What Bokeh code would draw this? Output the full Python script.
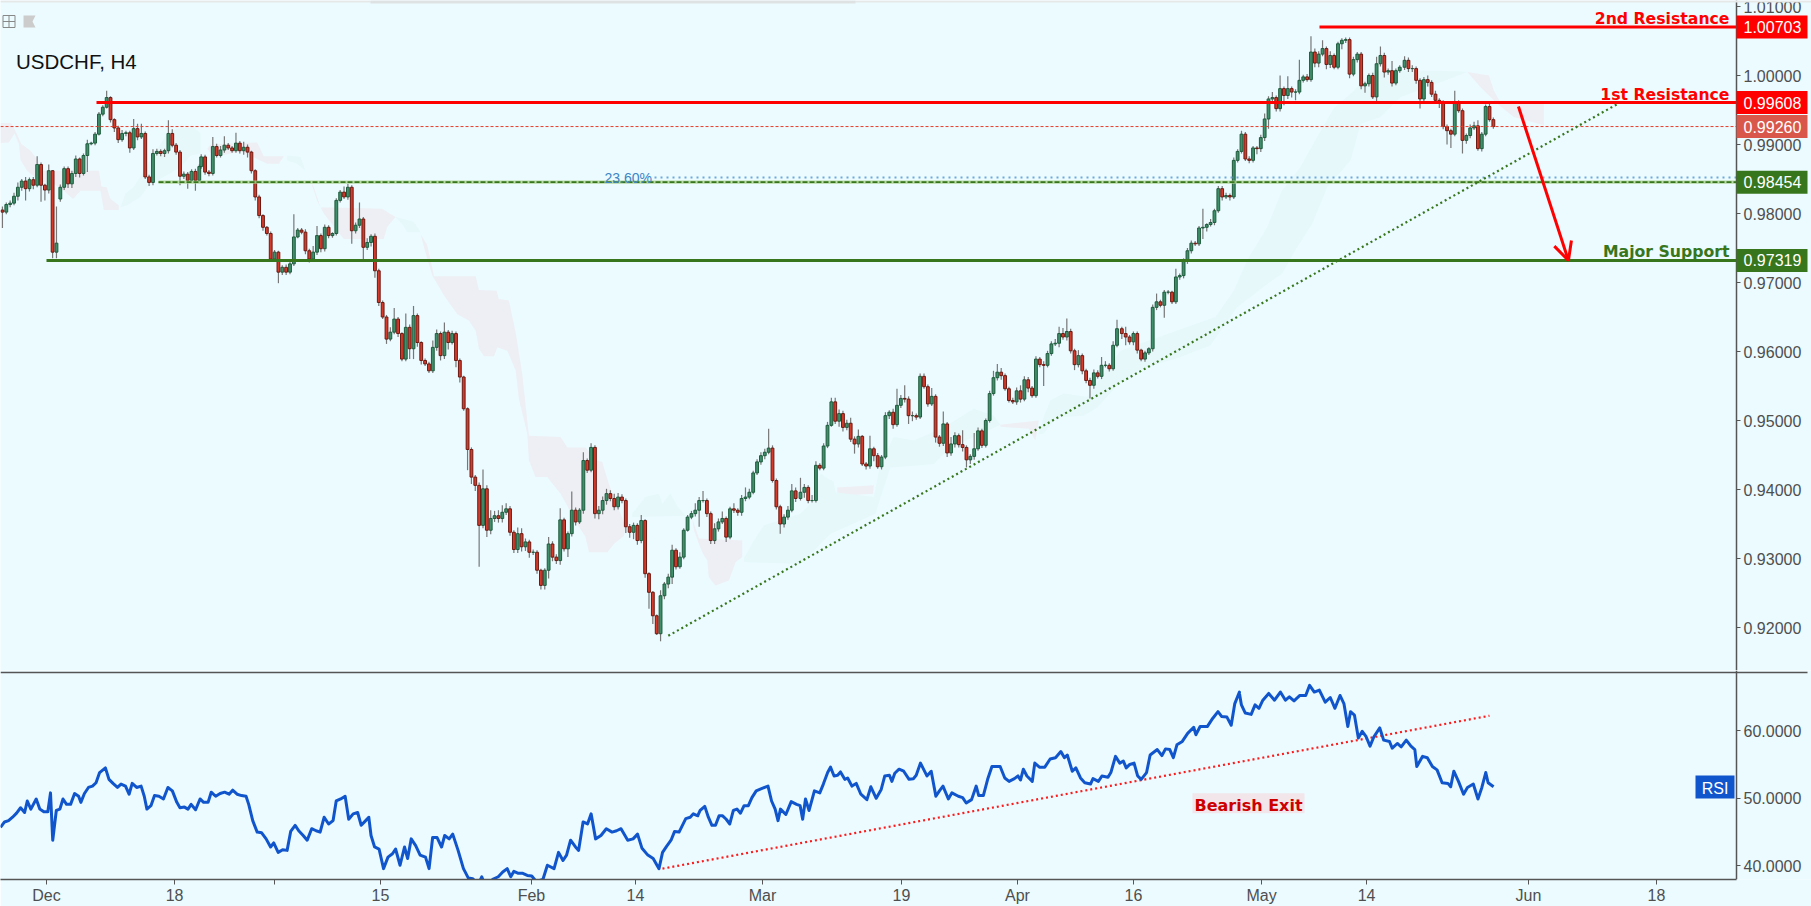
from bokeh.plotting import figure
from bokeh.layouts import column
from bokeh.core.properties import value
from bokeh.models import (Range1d, LinearAxis, FixedTicker, PrintfTickFormatter, Label,
                          Arrow, OpenHead, BoxAnnotation)
from bokeh.embed import file_html
from bokeh.resources import INLINE
import numpy as np

# ---------------- data: USDCHF H4 closes, in 1/10000 of a franc ----------------
closes_dec = [9802,9813,9815,9825,9838,9847,9836,9849,9841,9871,9841,9834,9862,9744,9757,9838,9865,9843,9858,9879,9858,9884,9901,9902,9915,9944,9954,9968,9936,9924,9907,9916,9917,9895,9923,9911,9916,9853,9845,9887,9890,9887,9891,9916,9899,9889,9854,9857,9848,9861,9848,9868]
closes_jan = [9882,9860,9858,9897,9884,9892,9899,9895,9891,9902,9891,9896,9889,9862,9824,9797,9780,9771,9734,9744,9715,9722,9715,9727,9766,9776,9773,9746,9734,9744,9768,9749,9780,9768,9771,9819,9831,9824,9838,9775,9783,9792,9751,9758,9767,9717,9671,9650]
closes_jan2 = [9618,9628,9647,9626,9589,9635,9604,9652,9613,9587,9582,9572,9606,9626,9594,9628,9613,9626,9587]
closes_feb = [9563,9517,9458,9418,9406,9348,9401,9341,9358,9362,9358,9367,9372,9338,9313,9336,9317,9324,9309,9309,9283,9261,9283,9321,9302,9297,9356,9314,9336,9370,9353,9370,9442,9428,9461,9365,9370,9384,9394,9387,9375,9389,9384,9346,9338,9348,9326,9355,9278,9251,9217,9191,9246,9263,9273,9312,9288,9302,9341,9360,9365,9370,9384,9384,9365,9326,9343,9353,9358,9331,9372,9370,9367,9387,9389,9396,9424,9440,9449,9454,9460,9413,9375,9350,9360,9370,9398,9387]
closes_mar = [9396,9403,9384,9384,9435,9431,9463,9493,9527,9499,9510,9490,9496,9473,9466,9477,9437,9434,9459,9449,9433,9447,9507,9512,9494,9522,9532,9531,9507,9507,9505,9564,9549,9524,9535,9476,9467,9495,9453,9466,9478,9465,9461,9443,9448,9459,9485,9464,9500,9539,9562,9570,9565,9546,9529,9527,9543,9531,9559,9547,9536,9589,9581,9580,9597,9611,9612,9626,9621,9629,9601,9581,9594,9572,9558,9551,9569,9564,9580,9580,9575,9609,9633]
closes_apr = [9626,9621,9614,9626,9602,9589,9598,9604,9664,9672,9667,9686,9686,9672,9708,9710,9732,9746,9757,9756,9779,9780,9784,9787,9804,9836,9824,9826,9824,9877,9890,9915,9879,9877,9895,9894,9910,9937,9966,9968,9952,9981,9971,9981,9976,9976,9993,9998,9994,10034,10018,10031,10039,10016,10029,10012,10046,10051,10052,10002,10023,10031,9985,9988,10000,9969,10017,10029,10005,10007,9989,10007,10012]
closes_may = [10022,10010,10010,9993,9966,9994,9990,9973,9964,9961,9926,9920,9915,9961,9949,9906,9913,9924,9927,9894,9915,9955,9936,9926]
section_start_bars = [1, 104, 200, 238, 414.5, 581, 727.5]

wick_up_a = [5,3,4,5,7,3,6,3,4,12,3,2,9,1,53,4,3,3,4,5,2,3,6,2,3,3,3,10,2,2,3,5,3,3,14,7,14,3,3,6,4,3,3,19,6,3,3,4,3,3,4,3]
wick_dn_a = [23,3,4,3,6,5,17,4,6,3,24,15,5,9,9,4,4,6,6,5,6,3,24,2,3,2,3,2,4,6,5,3,4,7,3,5,3,3,5,4,3,4,5,4,3,4,13,4,12,3,15,3]
wick_up_b = [4,3,3,14,4,6,13,3,3,15,3,8,4,2,2,3,2,2,3,3,2,3,4,3,33,3,3,4,3,9,14,3,4,3,2,3,3,8,5,3,4,24,3,6,3,4,3,3]
wick_dn_b = [3,4,4,3,3,3,4,3,3,3,4,6,8,4,5,4,5,3,4,3,16,4,4,3,3,2,3,5,5,4,4,5,4,4,3,3,3,3,4,19,4,4,17,4,6,10,5,3]
wick_up_c = [3,7,16,3,2,20,4,14,3,2,3,3,10,6,3,14,3,4,3]
wick_dn_c = [7,3,3,5,3,3,15,15,6,6,3,3,3,5,7,5,10,3,10]
wick_up_d = [3,2,2,3,3,4,28,5,12,7,8,10,8,4,3,9,8,5,3,4,3,2,3,10,4,4,17,3,3,27,4,3,12,3,6,3,6,6,7,5,7,6,4,3,4,4,3,8,2,2,2,2,8,3,5,8,3,7,3,3,4,10,5,14,3,3,8,5,10,3,3,8,3,5,14,5,3,4,5,5,28,4,3,3,4,6,10,5]
wick_dn_d = [8,3,30,10,8,60,4,10,6,5,6,6,4,5,5,5,7,6,8,4,5,6,6,12,6,5,6,4,12,4,5,3,5,4,3,7,8,6,6,4,5,4,4,9,8,10,6,4,6,24,12,2,11,5,6,10,4,3,3,2,3,4,24,3,5,5,5,4,3,7,3,4,5,5,4,3,3,3,4,5,3,3,4,14,5,4,3,5]
wick_up_e = [21,5,3,8,6,3,4,5,6,6,6,4,5,8,4,10,2,3,19,3,4,3,5,3,5,24,5,19,4,6,3,4,4,3,12,3,3,18,3,10,5,3,21,3,3,23,5,3,3,4,10,12,6,3,3,4,5,8,5,4,3,4,3,5,4,4,6,10,8,19,4,3,8,3,3,4,5,4,12,6,3,6,13]
wick_dn_e = [3,8,4,3,3,3,3,3,2,4,8,6,4,4,14,5,3,5,4,8,3,4,3,5,6,3,4,5,12,8,4,3,3,4,3,8,5,4,6,4,5,4,6,11,6,5,3,4,3,3,3,4,6,3,3,3,4,5,3,6,3,3,4,30,3,3,3,6,4,5,4,8,4,5,4,19,5,3,4,3,4,3,3]
wick_up_f = [3,10,3,3,3,2,3,2,4,12,3,3,3,2,12,3,3,4,4,3,3,27,2,5,3,4,4,4,3,4,3,5,3,4,3,3,4,8,4,8,3,19,3,18,3,4,30,3,4,23,5,4,12,3,6,3,3,3,3,3,4,3,3,3,3,4,10,13,4,3,14,3,3]
wick_dn_f = [8,12,4,5,5,3,4,3,4,4,3,18,3,3,3,4,4,5,4,3,3,16,6,3,4,3,5,3,5,3,3,3,3,4,3,8,5,5,14,5,4,4,14,5,8,12,3,3,3,3,6,6,3,7,5,3,3,8,4,6,3,4,5,10,4,3,6,4,8,4,5,3,3]
wick_up_g = [6,4,5,3,3,4,6,3,5,3,3,3,3,17,3,3,3,5,6,8,3,3,6,3]
wick_dn_g = [4,5,5,5,14,6,6,4,3,8,4,20,20,3,3,19,5,4,3,3,4,3,3,3]
first_open = 9805
session_gaps = {15: 9821}   # candle index -> open, where the market gapped

rsi_a = [45.7,46.5,46.7,47.2,47.8,48.6,47.9,49.6,48.4,49.9,48.4,48.0,48.0,50.8,43.8,48.2,48.4,49.9,49.1,49.1,50.7,50.3,49.4,50.7,51.6,51.8,52.3,53.8,54.5,52.8,52.2,51.6,52.1,51.8,50.6,52.2,51.6,51.8,50.3,48.4,48.9,50.4,50.3,49.9,51.6,51.1,49.4,48.6,48.7,48.4,49.1,48.3,49.9,49.4,49.4,50.9,50.3,50.7,50.9,50.6,51.2,50.6,50.4,50.3,49.1,46.7,45.0,44.9,44.0,42.8,43.4,42.0,42.4,42.3,45.1,46.0,45.2,44.5,43.8,45.5,45.2,45.0,47.2,46.2,46.7,49.6,49.9,50.3,46.9,47.7,47.9,46.0,46.7,47.2,44.5,42.8,42.5,39.6,41.3,41.8,42.5,40.1,42.8,41.1,44.0,43.0,41.6,41.3,39.6,44.2,44.2,42.8,44.5,44.0,44.7,42.3,39.6,38.2,38.1,37.2,38.4,37.2,38.1,38.4,39.1,39.6,38.4,39.2,38.9,38.9,38.6,38.5,37.7,38.0,40.1,39.6,42.0,40.8,41.6,43.8,42.8,42.3,46.5,46.2,47.7,44.0,44.5,45.5,45.0,45.2,45.5,43.8,44.0,44.7,42.6,41.6,41.1,39.6,42.0,42.9,43.8,45.1,45.0,47.0,47.2,47.7,47.4]
rsi_a_time = [0,9,18,27,36,45,54,60,68,80,88,97,106,112,117,125,133,140,148,157,166,175,180,188,197,206,214,222,235,243,252,262,270,280,288,295,305,315,322,328,337,345,355,365,375,385,395,402,412,420,427,437,447,455,465,472,482,492,502,512,520,530,540,550,556,565,575,585,595,605,612,622,632,642,650,660,668,678,687,697,707,716,725,735,745,752,762,772,780,790,800,808,818,825,830,838,848,858,868,878,885,895,905,912,920,930,940,952,960,968,978,988,995,1005,1013,1025,1037,1048,1058,1070,1078,1085,1105,1115,1125,1135,1143,1150,1160,1170,1180,1190,1200,1215,1225,1240,1250,1260,1268,1277,1288,1295,1305,1315,1323,1333,1345,1357,1370,1380,1390,1405,1417,1427,1437,1450,1462,1475,1483,1492,1502,1510,1520,1535,1545,1552,1562]
rsi_b = [47.4,48.2,48.8,47.2,46.0,46.0,47.4,47.4,46.9,46.2,48.2,48.4,47.8,48.9,48.9,50.1,51.1,51.4,51.8,49.6,48.4,46.7,48.4,47.6,49.5,49.1,48.9,46.9,49.9,48.2,51.1,50.8,52.1,53.8,54.6,53.3,53.4,53.9,52.8,53.0,51.8,52.2,50.6,49.8,51.7,50.0,51.3,53.3,53.4,52.5,53.7,54.3,54.0,52.8,52.9,53.4,55.2,53.3,54.0,50.3,51.1,51.8,49.9,50.8,50.3,50.1,49.3,49.8,51.8,50.4,50.4,52.8,54.7,54.7,54.7,53.0,52.5,52.9,53.3,52.7,54.3,53.3,52.5,55.2,54.6,54.6,55.8,56.0,56.9,56.0,56.4,54.0,54.5,53.0,52.3,52.1,52.9,52.5,53.3,53.1,53.8,56.2,55.2,55.5,54.5,55.0,55.2,53.3,52.8,53.8,56.4,56.8,57.2,56.3,57.3,57.2,56.0,57.9,58.4,59.6,60.5,59.4,60.6,60.6,61.8,62.8,62.1,62.0,60.8,64.0,65.7]
rsi_b_time = [48,55,68,78,88,98,108,118,128,138,148,158,168,178,190,200,212,225,245,255,265,273,280,295,310,325,335,342,350,360,375,390,400,412,420,430,440,448,460,468,480,492,505,522,533,548,562,572,585,592,600,612,625,640,652,660,672,690,702,715,725,735,750,760,778,790,800,815,828,835,848,860,872,885,895,908,920,935,945,952,960,970,985,992,1005,1020,1035,1050,1065,1075,1083,1097,1107,1120,1132,1148,1155,1170,1180,1197,1205,1218,1230,1240,1248,1258,1270,1280,1290,1305,1315,1325,1335,1348,1358,1370,1380,1390,1405,1420,1437,1443,1455,1475,1490,1505,1515,1530,1542,1552,1565]
rsi_c = [65.5,63.8,62.6,62.4,63.8,63.3,64.5,65.5,64.5,65.7,64.5,65.0,64.4,65.2,65.2,66.7,65.7,66.0,64.2,64.9,63.3,65.2,64.0,60.6,62.8,62.3,58.9,59.9,59.1,57.7,59.1,60.4,58.6,58.4,57.4,58.1,57.6,58.6,57.7,57.2,54.7,56.2,56.0,54.7,54.2,52.3,52.2,51.7,54.0,52.5,50.6,51.6,52.1,49.9,51.6,53.8,52.3,51.7]
rsi_c_time = [100,105,115,130,140,150,160,175,190,205,218,228,240,255,270,280,292,305,320,333,345,358,368,378,385,395,405,415,425,435,445,460,470,485,492,505,515,528,540,550,555,570,582,595,607,620,635,642,650,662,675,685,700,712,722,732,738,752]

cloud_pink = [
 ([0,5.5,8,10.7,15.5,19,21.6,51,52.3,55,57,61.3,61.3,53.5,51.8,41.5,37.6,32.8,27.6,20.7,13.8,10.4,9.5,7.3,4.3,0],
  [.9931,.9931,.9918,.9901,.9891,.9879,.9862,.9862,.9839,.9838,.9821,.9812,.9805,.9805,.9833,.9833,.9821,.9833,.9843,.9846,.9862,.9877,.9901,.9916,.9903,.9902]),
 ([107.1,108.8,133,136.4,146.8,144.2,138.2,133,124.3,110.5],
  [.9894,.9900,.9903,.9883,.9883,.9872,.9872,.9879,.9890,.9882]),
 ([158,162.3,165.8,197.7,204.6,200.3,198.6,177.9,174.4,167.5,164,160.6],
  [.9862,.9838,.9809,.9807,.9795,.9780,.9763,.9763,.9775,.9800,.9819,.9848]),
 ([217.7,221.1,223.7,224.6,246.2,247.9,257,258.2,263.4,266.9,270.3,273.8,290.2,293.7,303.1,309.2,311.8,315.2,323.9,323,317.8,314.4,304.9,303.1,298.8,290.2,283.3,277.2,273.8,272.9,268.6,266.9,262.6,257.4,255.7,250.5,247.9,246.2,242.7,236.7,229.8,223.7,219.4],
  [.9770,.9754,.9722,.9709,.9709,.9689,.9688,.9676,.9674,.9628,.9568,.9478,.9476,.9461,.9461,.9442,.9440,.9408,.9346,.9333,.9321,.9309,.9309,.9331,.9350,.9394,.9418,.9418,.9442,.9481,.9531,.9573,.9601,.9606,.9593,.9593,.9604,.9630,.9645,.9654,.9681,.9710,.9751]),
 ([358.4,361.9,384.3,384.3,380.9,377.4,370.5,367,366.2,363.6,361.9,359.3],
  [.9358,.9329,.9326,.9302,.9295,.9268,.9261,.9273,.9297,.9309,.9321,.9341]),
 ([433.5,452.5,452.1,433.5],[.9403,.9406,.9394,.9391]),
 ([518.1,538,536.2,532.8,518.1],[.9494,.9500,.9471,.9488,.9491]),
 ([760,771.2,773.8,777.2,799.7,799.7,784.1,775.5,766.9],[1.0005,1.0000,.9978,.9961,.9959,.9928,.9940,.9959,.9983]),
]
cloud_teal = [
 ([62.2,64.8,69,71.7,77.7,86.4,91.5,100.2,103.6,103.6,98.4,93.3,81.2,76,72.5,65.6],
  [.9809,.9829,.9838,.9850,.9877,.9916,.9923,.9925,.9916,.9887,.9884,.9867,.9848,.9838,.9824,.9812]),
 ([148.5,155.4,158,153.7,148.5],[.9884,.9882,.9862,.9872,.9877]),
 ([204.6,214.1,217.6,210.7,208.1],[.9795,.9788,.9773,.9773,.9785]),
 ([327.3,334.2,341.1,342.9,347.2,350.6,355,327.3],[.9365,.9389,.9394,.9379,.9394,.9375,.9362,.9360]),
 ([385.2,390.4,395.5,414.5,421.4,424.8,431.7,432.6,452.5,455.9,462.8,473.2,488.7,504.3,514.6,518.1,504.3,492.2,483.5,461.1,457.6,453.3,430,414.5,385.2],
  [.9300,.9326,.9348,.9365,.9384,.9423,.9411,.9396,.9389,.9437,.9476,.9471,.9490,.9517,.9507,.9494,.9476,.9461,.9437,.9432,.9403,.9365,.9336,.9292,.9295]),
 ([538,540.5,544,550.9,563,580.3,629.5,639,645.9,656.3,664,673.5,682.2,690.8,701.2,710.7,746.1,760,725.4,715,704.7,699.5,687.4,679.6,671.8,664,656.3,640.7,626.9,611.3,594.1,589.8,580.3,568.2,561.2,547.4,540.5],
  [.9481,.9505,.9529,.9539,.9534,.9601,.9650,.9688,.9732,.9780,.9833,.9867,.9911,.9952,.9978,1.0007,1.0007,1.0005,.9969,.9940,.9930,.9877,.9838,.9785,.9751,.9713,.9698,.9664,.9609,.9592,.9577,.9573,.9556,.9519,.9507,.9505,.9481]),
]

price_ticks = [0.92,0.93,0.94,0.95,0.96,0.97,0.98,0.99,1.00,1.01]
rsi_ticks = [40,50,60]
time_labels = ["Dec","18","2018","15","Feb","14","Mar","19","Apr","16","May","14","Jun","18"]
time_bars = [23.8,90.2,142,196.9,275.1,329,394.8,466.8,526.9,587,653.4,707.8,791.7,858]
tag_values = [1.00703,0.99608,0.99260,0.98454,0.97319]
tag_names = ["1.00703","0.99608","0.99260","0.98454","0.97319"]
tag_colors = ["#ff0000","#ff0000","#d9574a","#38761d","#38761d"]
level_2nd, level_1st, level_sup, level_fib, level_last = 1.00703,0.99608,0.97319,0.98454,0.99260
level_236 = 0.98520
rsi_top_line = 68.6

# ---------------- layout ----------------
BG = "#ebfbff"
BAR_PX = 1.93
AXIS_X = 1736 / BAR_PX
AX = "#555555"
FONT = "Liberation Sans"
BOLD = "DejaVu Sans"
def bars(px): return px / BAR_PX
def py(y): return 1 + (75 - y) / 6900
def ry(y): return 60 - (y - 730.7) / 6.83

x_range = Range1d(0, 1811 / BAR_PX)
common = dict(output_backend="svg", toolbar_location=None, x_range=x_range, width=1811,
              background_fill_color=BG, border_fill_color=BG, outline_line_color=None,
              min_border=0, x_axis_location=None, y_axis_location=None)
p1 = figure(height=670, y_range=Range1d(py(670), py(0)), **common)
common2 = dict(common); common2["x_axis_location"] = "below"
p2 = figure(height=236, y_range=Range1d(ry(881), ry(670)), **common2)
p1.grid.visible = False
p2.grid.visible = False
p2.min_border_bottom = 25

# clouds
for xs, ys in cloud_pink:
    p1.patch(xs, ys, fill_color="#eeeff4", line_color=None)
for xs, ys in cloud_teal:
    p1.patch(xs, ys, fill_color="#e6f8fa", line_color=None)

# candles
sections = [(closes_dec, wick_up_a, wick_dn_a), (closes_jan, wick_up_b, wick_dn_b), (closes_jan2, wick_up_c, wick_dn_c),
            (closes_feb, wick_up_d, wick_dn_d), (closes_mar, wick_up_e, wick_dn_e), (closes_apr, wick_up_f, wick_dn_f),
            (closes_may, wick_up_g, wick_dn_g)]
xs_all, cl_all, up_all, dn_all = [], [], [], []
for start, (cl, up, dn) in zip(section_start_bars, sections):
    m = len(cl)
    xs_all += [start + 2 * i for i in range(m)]
    cl_all += cl
    up_all += (up + [3] * m)[:m]
    dn_all += (dn + [3] * m)[:m]
x = np.array(xs_all, float)
closes = np.array(cl_all, float)
opens = np.r_[first_open, closes[:-1]]
for i, v in session_gaps.items():
    opens[i] = v
hi = np.maximum(opens, closes) + np.array(up_all, float)
lo = np.minimum(opens, closes) - np.array(dn_all, float)
p1.segment(x, hi / 1e4, x, lo / 1e4, line_color="#777777", line_width=1.2)
rise = closes >= opens
p1.vbar(x[rise], 1.45, closes[rise] / 1e4, opens[rise] / 1e4, fill_color="#3f8f6b", line_color="#1f5a3c", line_width=1)
fall = ~rise
p1.vbar(x[fall], 1.45, opens[fall] / 1e4, closes[fall] / 1e4, fill_color="#d63a2a", line_color="#6a1a12", line_width=1)

# levels
p1.line([0, AXIS_X], [level_last] * 2, line_color="#e83c28", line_width=1, line_dash=[3, 2])
p1.line([bars(158), AXIS_X], [level_fib] * 2, line_color="#a8d08d", line_width=3.2, line_alpha=0.8)
p1.line([bars(158), AXIS_X], [level_fib] * 2, line_color="#38761d", line_width=1.6, line_dash=[5, 2])
p1.line([bars(654), AXIS_X], [level_236] * 2, line_color="#6fa8dc", line_width=2, line_dash=[2, 4])
p1.line([bars(96), AXIS_X], [level_1st] * 2, line_color="#ff0000", line_width=3)
p1.line([bars(1319), AXIS_X], [level_2nd] * 2, line_color="#ff0000", line_width=3)
p1.line([bars(46), AXIS_X], [level_sup] * 2, line_color="#38761d", line_width=3)
p1.line([346, 838], [0.9188, 0.9959], line_color="#38761d", line_width=2.2, line_dash=[2, 3])
p1.add_layout(Arrow(end=OpenHead(size=18, line_color="#ff0000", line_width=3), x_start=786.5, y_start=0.9955,
                    x_end=812.4, y_end=level_sup, line_color="#ff0000", line_width=3))

# price axis
ax1 = LinearAxis(fixed_location=AXIS_X, ticker=FixedTicker(ticks=price_ticks),
                 formatter=PrintfTickFormatter(format="%.5f"), axis_line_color=AX, axis_line_width=1.5,
                 major_tick_line_color=AX, major_tick_in=0, major_tick_out=4, minor_tick_line_color=None,
                 major_label_standoff=3, major_label_text_font=FONT, major_label_text_font_size="16px",
                 major_label_text_color="#4f4f4f")
p1.add_layout(ax1, "right")

# price tags
p1.rect([bars(1771.5)] * 5, tag_values, width=71, height=23, width_units="screen", height_units="screen",
        fill_color=tag_colors, line_color=None, level="overlay")
p1.text([AXIS_X] * 5, tag_values, text=tag_names, x_offset=7, text_font=value(FONT), text_font_size="16px",
        text_color="#ffffff", text_align="left", text_baseline="middle", level="overlay")

# texts
p1.text([bars(15.5)], [py(61)], text=["USDCHF, H4"], text_font=value(FONT), text_font_size="20.5px", text_color="#111111",
        text_baseline="middle")
bold = dict(text_font=value(BOLD), text_font_size="15.7px", text_font_style="bold", text_align="right",
            text_baseline="alphabetic")
p1.text([bars(1729)], [py(17.5)], text=["2nd Resistance"], text_color="#ff0000", **bold)
p1.text([bars(1729)], [py(93.5)], text=["1st Resistance"], text_color="#ff0000", **bold)
p1.text([bars(1729)], [py(250.5)], text=["Major Support"], text_color="#38761d", **bold)
p1.text([bars(604)], [py(177)], text=["23.60%"], text_font=value(FONT), text_font_size="14px", text_color="#3d85c6",
        text_baseline="middle")

# top strip and chart icons
p1.add_layout(BoxAnnotation(left=0, right=1811 / BAR_PX, bottom=py(2), top=py(0), fill_color="#e6e8e8", fill_alpha=1, line_color=None))
p1.add_layout(BoxAnnotation(left=bars(370), right=bars(855), bottom=py(3), top=py(0), fill_color="#dfe2e3", fill_alpha=1, line_color=None))
p1.rect([bars(8.5)], [py(21)], width=12, height=12, width_units="screen", height_units="screen",
        fill_color=None, line_color="#888888", line_width=1)
p1.multi_line([[bars(2.5), bars(14.5)], [bars(8.5), bars(8.5)]], [[py(21), py(21)], [py(15), py(27)]],
              line_color="#888888", line_width=1)
p1.patch([bars(23), bars(35), bars(32), bars(35), bars(23)], [py(15), py(15), py(21), py(27), py(27)],
         fill_color="#cccccc", line_color=None)

# RSI pane
p2.segment([0], [rsi_top_line], [1807 / BAR_PX], [rsi_top_line], line_color=AX, line_width=1.5)
p2.line([343, 771.5], [39.6, 62.2], line_color="#ff1a1a", line_width=2.2, line_dash=[2, 3])
def resample(times, m):
    t = np.array(times, float)
    return np.interp(np.linspace(0, 1, m), np.linspace(0, 1, len(t)), t)
rsi_x = np.r_[resample(rsi_a_time, len(rsi_a)) / 2.24 / BAR_PX,
              (680 + resample(rsi_b_time, len(rsi_b)) / 2.8) / BAR_PX,
              (1200 + resample(rsi_c_time, len(rsi_c)) / 2.566) / BAR_PX]
p2.line(rsi_x, rsi_a + rsi_b + rsi_c, line_color="#1155cc", line_width=3, line_join="round")

ax2 = LinearAxis(fixed_location=AXIS_X, ticker=FixedTicker(ticks=rsi_ticks),
                 formatter=PrintfTickFormatter(format="%.4f"), axis_line_color=AX, axis_line_width=1.5,
                 major_tick_line_color=AX, major_tick_in=0, major_tick_out=4, minor_tick_line_color=None,
                 major_label_standoff=3, major_label_text_font=FONT, major_label_text_font_size="16px",
                 major_label_text_color="#4f4f4f")
p2.add_layout(ax2, "right")

xa = p2.xaxis[0]
xa.ticker = FixedTicker(ticks=time_bars)
xa.major_label_overrides = {b: ("" if t == "2018" else t) for b, t in zip(time_bars, time_labels)}
xa.bounds = (0, AXIS_X)
xa.axis_line_color = AX
xa.axis_line_width = 1.5
xa.major_tick_line_color = AX
xa.major_tick_in = 0
xa.major_tick_out = 5
xa.minor_tick_line_color = None
xa.major_label_standoff = 2
xa.major_label_text_font = FONT
xa.major_label_text_font_size = "16px"
xa.major_label_text_color = "#4f4f4f"
p2.add_layout(Label(x=time_bars[time_labels.index("2018")], y=ry(897), text="2018", text_font=FONT,
                    text_font_size="16px", text_font_style="bold", text_color="#4f4f4f",
                    text_align="center", text_baseline="middle"))

p2.rect([bars(1714.5)], [ry(787.5)], width=39, height=23, width_units="screen", height_units="screen",
        fill_color="#1155cc", line_color=None)
p2.text([bars(1714.5)], [ry(789)], text=["RSI"], text_font=value(FONT), text_font_size="16px", text_color="#ffffff",
        text_align="center", text_baseline="middle")
p2.rect([bars(1248)], [ry(804)], width=112, height=20, width_units="screen", height_units="screen",
        fill_color="#f2e6ea", line_color=None)
p2.text([bars(1248)], [ry(806)], text=["Bearish Exit"], text_font=value(BOLD), text_font_size="16px",
        text_font_style="bold", text_color="#cc0000", text_align="center", text_baseline="middle")

page = column(p1, p2, spacing=0)
open("out.html", "w").write(file_html(page, INLINE))
